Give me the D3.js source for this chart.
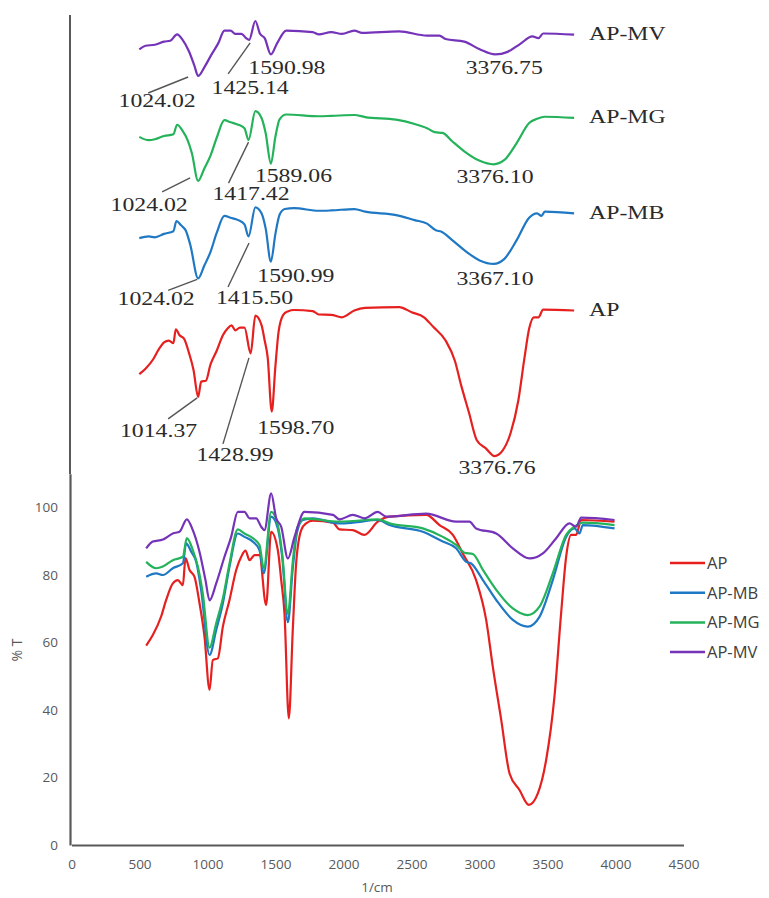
<!DOCTYPE html>
<html><head><meta charset="utf-8">
<script src="https://cdn.jsdelivr.net/npm/d3@7"></script>
<style>body{margin:0;background:#fff}</style>
</head><body>
<svg id="c" width="769" height="898"></svg>
<script>
// ---------- DATA ----------
const seriesNames = ["AP", "AP-MB", "AP-MG", "AP-MV"];

const wnAP = [549,598,659,696,745,782,819,838,868,904,941,978,1015,1039,1076,1113,1162,1211,1248,1279,1309,1346,1382,1431,1468,1517,1542,1566,1598,1627,1652,1689,1725,1775,1922,1971,2069,2154,2252,2338,2608,2706,2804,2877,2975,3049,3098,3160,3221,3294,3363,3429,3490,3551,3600,3637,3674,3710,3748,3993];
const tAP  = [59.1,62.2,67.7,72.6,77.5,78.5,77,85,81.5,79.5,71.7,61.7,46,54.8,55.3,64.7,72.6,81.5,85.4,87.2,84.4,85.9,85.9,71.1,92.8,87.4,78.5,68.7,37.5,63.7,83.5,93.3,95.3,96.1,95.5,93.5,93.3,91.9,95.8,97.3,97.8,94.8,91.9,86.4,78.5,66.7,52.8,37,21.2,16.3,11.9,15.3,25.2,43.9,68.6,85.4,91.9,91.9,96.3,95.8];

const wnMB = [549,623,672,745,819,843,880,917,953,1015,1064,1113,1162,1223,1272,1333,1382,1414,1468,1517,1550,1591,1627,1660,1701,1775,1971,2069,2252,2338,2583,2730,2828,2902,2939,3025,3123,3245,3355,3441,3539,3637,3699,3735,3760,3993];
const tMB  = [79.5,80.5,80,82,83.5,89.4,86.9,83.9,75.6,56.3,63.7,71.6,82.5,92.3,91.3,89.9,87.4,80.5,97.3,93.8,85,66,82,93,96.3,96.8,95.3,95.5,96.3,94.8,92.8,89.9,87.9,83.9,83.4,78.5,72.6,66.7,64.7,67.6,78.5,91.3,93.8,92.3,94.8,93.8];

const wnMG = [549,623,672,745,819,848,892,929,965,1015,1064,1113,1162,1223,1272,1333,1382,1414,1468,1517,1550,1591,1627,1660,1713,1971,2069,2252,2338,2583,2730,2828,2890,2951,3025,3123,3245,3355,3441,3539,3637,3699,3760,3993];
const tMG  = [83.9,82,82.5,84.4,85.4,90.9,87.4,82.5,74.6,58.5,65.7,73.1,83.4,93.5,92.3,90.9,88.9,82,98.7,94.8,86,68.5,84,94,96.8,95.8,96,96.5,95.3,93.8,91.3,88.9,86.6,86.2,81.5,75.6,70.1,68.1,70.6,80.5,91.9,94.3,95.5,94.8];

const wnMV = [549,598,672,745,794,848,892,941,985,1015,1064,1125,1174,1223,1272,1309,1358,1395,1419,1468,1505,1542,1591,1640,1713,1922,1971,2069,2154,2252,2314,2608,2828,2926,2975,3123,3245,3368,3466,3564,3662,3710,3748,3993];
const tMV  = [87.9,89.9,90.5,92.3,92.8,96.5,93.3,86.9,78.5,72.5,77.5,85.4,91.3,98.7,98.7,96.8,96.8,94.3,93.3,104.2,96.8,94.3,84.9,91.3,98.7,97.8,96.5,97.8,96.8,98.7,97.3,98.2,95.8,95.8,93.8,92.3,87.9,84.9,86.4,90.9,95.3,94.3,97,96.3];

const xTicks = [0,500,1000,1500,2000,2500,3000,3500,4000,4500];
const yTicks = [0,20,40,60,80,100];

// peak annotations of the stacked (upper) panel
const peakSeries = ["AP-MV","AP-MV","AP-MV","AP-MV","AP-MG","AP-MG","AP-MG","AP-MG","AP-MB","AP-MB","AP-MB","AP-MB","AP","AP","AP","AP"];
const peakText   = ["1024.02","1425.14","1590.98","3376.75","1024.02","1417.42","1589.06","3376.10","1024.02","1415.50","1590.99","3367.10","1014.37","1428.99","1598.70","3376.76"];
const peakAt     = [1015,1419,1591,3368,1015,1414,1591,3355,1015,1414,1591,3355,1015,1431,1598,3363];

// ---------- LAYOUT / STYLE ----------
const colors = {"AP":"#e5201f","AP-MB":"#1f78c3","AP-MG":"#24b35a","AP-MV":"#7433b8"};
const stackOffset = {"AP":0,"AP-MB":58,"AP-MG":112,"AP-MV":158.5};
// label offsets relative to the peak point [dx, dy(baseline), leader or null]
const labelLayout = [
  [-41,31,[-50,17,-10,1]],[1,54,[-21,34,1,3]],[16,20,null],[9,20,null],
  [-49,30,[-36,11,-8,-3]],[2.5,60,[-20,43,0,2]],[22.6,18.6,null],[1.4,18.7,null],
  [-42,27,[-30,12,-1,1]],[6,67.6,[-20.5,50.6,0.5,6.6]],[25,20.4,null],[1.4,21.4,null],
  [-39.6,40,[-30,22,-1,1]],[-15.7,107.5,[-27.7,90.5,-1.7,4.5]],[24,22.5,null],[2.4,18,null]
];

const data = {
  "AP": wnAP.map((w,i)=>({wn:w,t:tAP[i]})),
  "AP-MB": wnMB.map((w,i)=>({wn:w,t:tMB[i]})),
  "AP-MG": wnMG.map((w,i)=>({wn:w,t:tMG[i]})),
  "AP-MV": wnMV.map((w,i)=>({wn:w,t:tMV[i]}))
};

const svg = d3.select("#c");

// ---------- upper stacked panel ----------
const xT = d3.scaleLinear().domain([0,4000]).range([70,575]);
const yT = d3.scaleLinear().domain([0,274.8]).range([476.7,0]);

const topG = svg.append("g");
seriesNames.forEach(s=>{
  const line = d3.line().x(d=>xT(d.wn)).y(d=>yT(d.t+stackOffset[s])).curve(d3.curveMonotoneX);
  topG.append("path").datum(data[s]).attr("d",line)
    .attr("fill","none").attr("stroke",colors[s]).attr("stroke-width",2.2)
    .attr("stroke-linejoin","round");
  const last = data[s][data[s].length-1];
  const g = topG.append("g").attr("transform",`translate(${xT(last.wn)+15},${yT(last.t+stackOffset[s])+5.5})`);
  g.append("text").attr("transform","scale(1.25,1)")
    .attr("font-family","'Liberation Serif', serif").attr("font-size",19)
    .attr("fill","#2a2a2a").text(s);
});

peakText.forEach((txt,i)=>{
  const s = peakSeries[i];
  const arr = data[s];
  let best = arr[0];
  arr.forEach(d=>{ if (Math.abs(d.wn-peakAt[i]) < Math.abs(best.wn-peakAt[i])) best = d; });
  const px = xT(best.wn), py = yT(best.t+stackOffset[s]);
  const [dx,dy,ld] = labelLayout[i];
  if (ld) {
    topG.append("line").attr("x1",px+ld[0]).attr("y1",py+ld[1]).attr("x2",px+ld[2]).attr("y2",py+ld[3])
      .attr("stroke","#555").attr("stroke-width",1.4);
  }
  const g = topG.append("g").attr("transform",`translate(${px+dx},${py+dy})`);
  g.append("text").attr("transform","scale(1.25,1)").attr("text-anchor","middle")
    .attr("font-family","'Liberation Serif', serif").attr("font-size",19)
    .attr("fill","#2a2a2a").text(txt);
});

// vertical rule of the upper panel
svg.append("line").attr("x1",70).attr("x2",70).attr("y1",15).attr("y2",474)
  .attr("stroke","#595959").attr("stroke-width",2);

// ---------- lower overlay chart ----------
const x = d3.scaleLinear().domain([0,4500]).range([71.5,683.5]);
const y = d3.scaleLinear().domain([0,110]).range([845,473.75]);

const gx = svg.append("g").attr("transform","translate(0,845)")
  .call(d3.axisBottom(x).tickValues(xTicks).tickFormat(d3.format("d")).tickSize(0).tickPadding(14));
gx.select(".domain").attr("stroke","#595959").attr("stroke-width",2.2);
gx.selectAll("text").attr("font-family","'Open Sans', sans-serif").attr("font-size",13.5).attr("fill","#595959");

const gy = svg.append("g").attr("transform","translate(70,0)")
  .call(d3.axisLeft(y).tickValues(yTicks).tickFormat(d3.format("d")).tickSize(0).tickPadding(12));
gy.select(".domain").attr("stroke","#595959").attr("stroke-width",2.2);
gy.selectAll("text").attr("font-family","'Open Sans', sans-serif").attr("font-size",13.5).attr("fill","#595959");

seriesNames.forEach(s=>{
  const line = d3.line().x(d=>x(d.wn)).y(d=>y(d.t)).curve(d3.curveMonotoneX);
  svg.append("path").datum(data[s]).attr("d",line)
    .attr("fill","none").attr("stroke",colors[s]).attr("stroke-width",2.2)
    .attr("stroke-linejoin","round");
});

svg.append("text").attr("transform","translate(22,650) rotate(-90)")
  .attr("text-anchor","middle").attr("font-family","'Open Sans', sans-serif")
  .attr("font-size",14).attr("fill","#595959").text("% T");
svg.append("text").attr("x",377).attr("y",892).attr("text-anchor","middle")
  .attr("font-family","'Open Sans', sans-serif").attr("font-size",13.5).attr("fill","#595959").text("1/cm");

// legend
const leg = svg.append("g");
seriesNames.forEach((s,i)=>{
  const yy = 563 + i*29.7;
  leg.append("line").attr("x1",670).attr("x2",705).attr("y1",yy).attr("y2",yy)
    .attr("stroke",colors[s]).attr("stroke-width",2.5);
  leg.append("text").attr("x",707).attr("y",yy+6).attr("font-family","'Open Sans', sans-serif")
    .attr("font-size",16.5).attr("fill","#404040").text(s);
});
</script>
</body></html>
